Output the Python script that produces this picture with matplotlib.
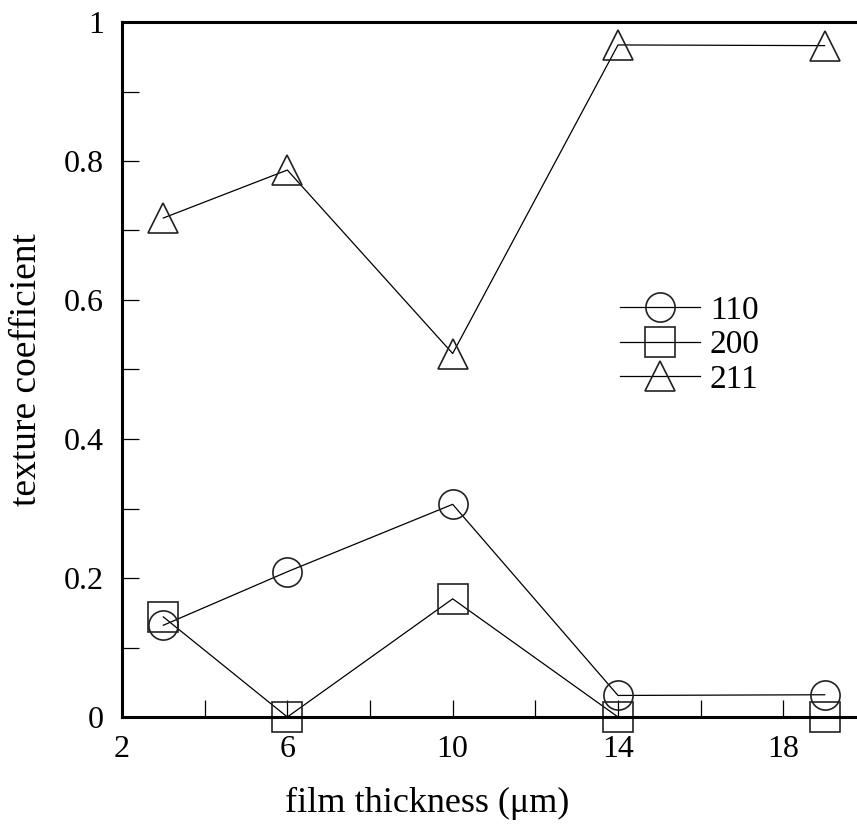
import numpy as np
import matplotlib
matplotlib.use('Agg')
import matplotlib.pyplot as plt
from matplotlib.ticker import MultipleLocator, FuncFormatter

plt.rcParams['font.family'] = ['Liberation Serif', 'DejaVu Serif']

thickness = [3, 6, 10, 14, 19]
tc_110 = [0.132, 0.209, 0.306, 0.031, 0.032]
tc_200 = [0.144, 0.0, 0.170, 0.0, 0.0]
tc_211 = [0.718, 0.787, 0.523, 0.967, 0.966]

series = [('110', tc_110, 'o'), ('200', tc_200, 's'), ('211', tc_211, '^')]

fig = plt.figure(figsize=(8.57, 8.31), dpi=100)
# axes run past the right edge of the figure (x axis ends at 20)
ax = fig.add_axes([122/857, 114/831, 744/857, 695/831])

for name, vals, mk in series:
    ax.plot(thickness, vals, color='black', lw=0.9, marker=mk,
            ms=21, mfc='none', mec='#222222', mew=1.2, label=name,
            clip_on=False)

ax.set_xlim(2, 20)
ax.set_ylim(0, 1)
ax.xaxis.set_major_locator(MultipleLocator(4, offset=2))
ax.xaxis.set_minor_locator(MultipleLocator(2))
ax.yaxis.set_major_locator(MultipleLocator(0.2))
ax.yaxis.set_minor_locator(MultipleLocator(0.1))
ax.yaxis.set_major_formatter(FuncFormatter(lambda v, p: f'{v:g}'))

ax.tick_params(which='both', direction='in', length=12, width=0.9,
               top=False, right=False, labelsize=23, pad=13)

for side in ['left', 'top', 'bottom']:
    ax.spines[side].set_linewidth(2.2)
ax.spines['right'].set_visible(False)

ax.set_xlabel('film thickness (μm)', fontsize=26)
ax.set_ylabel('texture coefficient', fontsize=27)
ax.xaxis.set_label_coords(0.41, -0.1)
ax.yaxis.set_label_coords(-0.105, 0.5)

ax.legend(loc='center left', bbox_to_anchor=(0.669, 0.535), frameon=False,
          fontsize=24, handlelength=2.4, handletextpad=0.3,
          labelspacing=0.12, borderpad=0, borderaxespad=0)

fig.savefig('out.png', dpi=100)
